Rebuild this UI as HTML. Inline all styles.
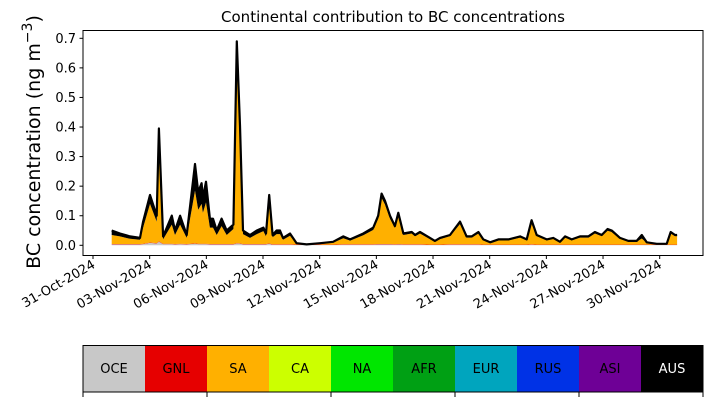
<!DOCTYPE html>
<html><head><meta charset="utf-8"><style>
body{margin:0;background:#fff;}
svg text{font-family:"DejaVu Sans","Liberation Sans",sans-serif;}
</style></head><body>
<svg width="713" height="402" viewBox="0 0 713 402">
<g id="plot"></g>
</svg>
<script>
const days=[0.99,1.43,1.96,2.49,2.65,3.02,3.37,3.49,3.71,4.17,4.34,4.61,4.96,5.40,5.57,5.75,5.82,5.98,6.19,6.35,6.55,6.81,7.08,7.43,7.61,7.78,7.94,8.31,8.67,9.02,9.16,9.33,9.51,9.72,9.90,10.06,10.43,10.78,11.31,12.02,12.71,13.25,13.61,14.31,14.84,15.10,15.28,15.46,15.72,15.98,16.16,16.43,16.87,17.05,17.31,17.84,18.10,18.37,18.90,19.43,19.78,20.05,20.40,20.66,21.02,21.46,21.99,22.61,22.96,23.22,23.49,24.02,24.37,24.72,24.99,25.34,25.78,26.22,26.57,26.93,27.24,27.46,27.90,28.34,28.78,29.05,29.31,29.84,30.37,30.58,30.81,30.92];
const total=[0.05,0.04,0.03,0.025,0.08,0.17,0.10,0.395,0.03,0.10,0.05,0.10,0.035,0.275,0.18,0.21,0.16,0.215,0.09,0.09,0.05,0.09,0.05,0.07,0.69,0.405,0.05,0.035,0.05,0.06,0.04,0.17,0.035,0.05,0.05,0.025,0.04,0.007,0.003,0.007,0.012,0.03,0.02,0.04,0.06,0.10,0.175,0.15,0.10,0.065,0.11,0.04,0.045,0.035,0.045,0.025,0.015,0.025,0.035,0.08,0.03,0.03,0.045,0.02,0.01,0.02,0.02,0.03,0.02,0.085,0.035,0.02,0.025,0.012,0.03,0.02,0.03,0.03,0.045,0.035,0.055,0.05,0.025,0.015,0.015,0.035,0.01,0.005,0.005,0.045,0.035,0.035];
const aus=[0.015,0.01,0.008,0.006,0.02,0.03,0.02,0.08,0.01,0.03,0.015,0.03,0.01,0.09,0.06,0.07,0.05,0.07,0.03,0.03,0.015,0.025,0.015,0.015,0.06,0.05,0.012,0.01,0.012,0.012,0.01,0.03,0.008,0.012,0.012,0.006,0.008,0.003,0.002,0.003,0.003,0.006,0.004,0.006,0.008,0.01,0.015,0.012,0.01,0.006,0.01,0.005,0.005,0.004,0.005,0.004,0.003,0.004,0.004,0.008,0.004,0.004,0.005,0.003,0.002,0.003,0.003,0.004,0.003,0.012,0.004,0.003,0.003,0.002,0.004,0.003,0.004,0.004,0.005,0.004,0.006,0.005,0.003,0.003,0.003,0.012,0.002,0.002,0.002,0.005,0.004,0.004];
const oce=[0.003,0.003,0.003,0.003,0.004,0.008,0.006,0.012,0.004,0.004,0.003,0.004,0.003,0.005,0.004,0.004,0.004,0.004,0.003,0.003,0.003,0.003,0.003,0.003,0.006,0.005,0.003,0.003,0.003,0.003,0.003,0.005,0.002,0.002,0.002,0.002,0.002,0.001,0.001,0.001,0.001,0.002,0.002,0.002,0.002,0.003,0.003,0.003,0.003,0.002,0.003,0.002,0.002,0.002,0.002,0.001,0.001,0.001,0.002,0.002,0.002,0.002,0.002,0.001,0.001,0.001,0.001,0.001,0.001,0.002,0.001,0.001,0.001,0.001,0.001,0.001,0.001,0.001,0.001,0.001,0.001,0.001,0.001,0.001,0.001,0.001,0.001,0.001,0.001,0.001,0.001,0.001];
const yTicks=[0.0,0.1,0.2,0.3,0.4,0.5,0.6,0.7];
const xTickLabels=["31-Oct-2024","03-Nov-2024","06-Nov-2024","09-Nov-2024","12-Nov-2024","15-Nov-2024","18-Nov-2024","21-Nov-2024","24-Nov-2024","27-Nov-2024","30-Nov-2024"];
const xTickDays=[0,3,6,9,12,15,18,21,24,27,30];
const regions=["OCE","GNL","SA","CA","NA","AFR","EUR","RUS","ASI","AUS"];
const regionColors=["#c8c8c8","#e60000","#ffb000","#ccff00","#00e600","#00a014","#00a5be","#0032e6","#6e0096","#000000"];

const NS="http://www.w3.org/2000/svg";
const g=document.getElementById('plot');
const X=d=>93+d*18.89;
const Y=v=>245.3-v*295.7;
function mk(t,a,p){const e=document.createElementNS(NS,t);for(const k in a)e.setAttribute(k,a[k]);(p||g).appendChild(e);return e;}
function area(lo,hi){let s='';for(let i=0;i<days.length;i++)s+=(i?'L':'M')+X(days[i]).toFixed(1)+','+Y(hi[i]).toFixed(1);for(let i=days.length-1;i>=0;i--)s+='L'+X(days[i]).toFixed(1)+','+Y(lo[i]).toFixed(1);return s+'Z';}
const zero=days.map(()=>0);
const saTop=total.map((t,i)=>t-aus[i]);
let e;
e=mk('path',{d:area(zero,oce),fill:regionColors[0]});

const gnlTop=oce.map(v=>v+0.0015);
e=mk('path',{d:area(oce,gnlTop),fill:regionColors[1]});

e=mk('path',{d:area(gnlTop,saTop),fill:regionColors[2]});

e=mk('path',{d:area(saTop,total),fill:'#000'});

let ld='';for(let i=0;i<days.length;i++)ld+=(i?'L':'M')+X(days[i]).toFixed(1)+','+Y(total[i]).toFixed(1);
e=mk('path',{d:ld,fill:'none',stroke:'#000','stroke-width':2.2,'stroke-linejoin':'round'});


e=mk('rect',{x:83,y:30.5,width:620,height:225,fill:'none',stroke:'#000','stroke-width':1});

yTicks.forEach(v=>{
  mk('line',{x1:79.5,x2:83,y1:Y(v),y2:Y(v),stroke:'#000'});
  const t=mk('text',{x:76,y:Y(v)+4.5,'text-anchor':'end','font-size':13});t.textContent=v.toFixed(1);
  
});
xTickDays.forEach((d,i)=>{
  const x=X(d);
  mk('line',{x1:x,x2:x,y1:255.5,y2:259,stroke:'#000'});
  const t=mk('text',{x:x+3,y:267,'text-anchor':'end','font-size':13,transform:`rotate(-30 ${x+3} 267)`});t.textContent=xTickLabels[i];
  
});
e=mk('text',{x:393,y:22,'text-anchor':'middle','font-size':15});e.textContent='Continental contribution to BC concentrations';

e=mk('text',{x:0,y:0,'text-anchor':'middle','font-size':19,transform:'translate(40 142) rotate(-90)'});
e.innerHTML='BC concentration (ng m<tspan dy="-8" font-size="14">−3</tspan><tspan dy="8">)</tspan>';


regions.forEach((r,i)=>{
  const x=83+i*62;
  const c=mk('rect',{x:x,y:345.5,width:62,height:46.5,fill:regionColors[i]});
  
  const t=mk('text',{x:x+31,y:373,'text-anchor':'middle','font-size':13,fill:r==='AUS'?'#fff':'#000'});t.textContent=r;
  
});
e=mk('rect',{x:83,y:345.5,width:620,height:46.5,fill:'none',stroke:'#000'});

for(let k=0;k<=5;k++){const x=83+k*124;mk('line',{x1:x,x2:x,y1:392,y2:397,stroke:'#000'});}
</script>
</body></html>
